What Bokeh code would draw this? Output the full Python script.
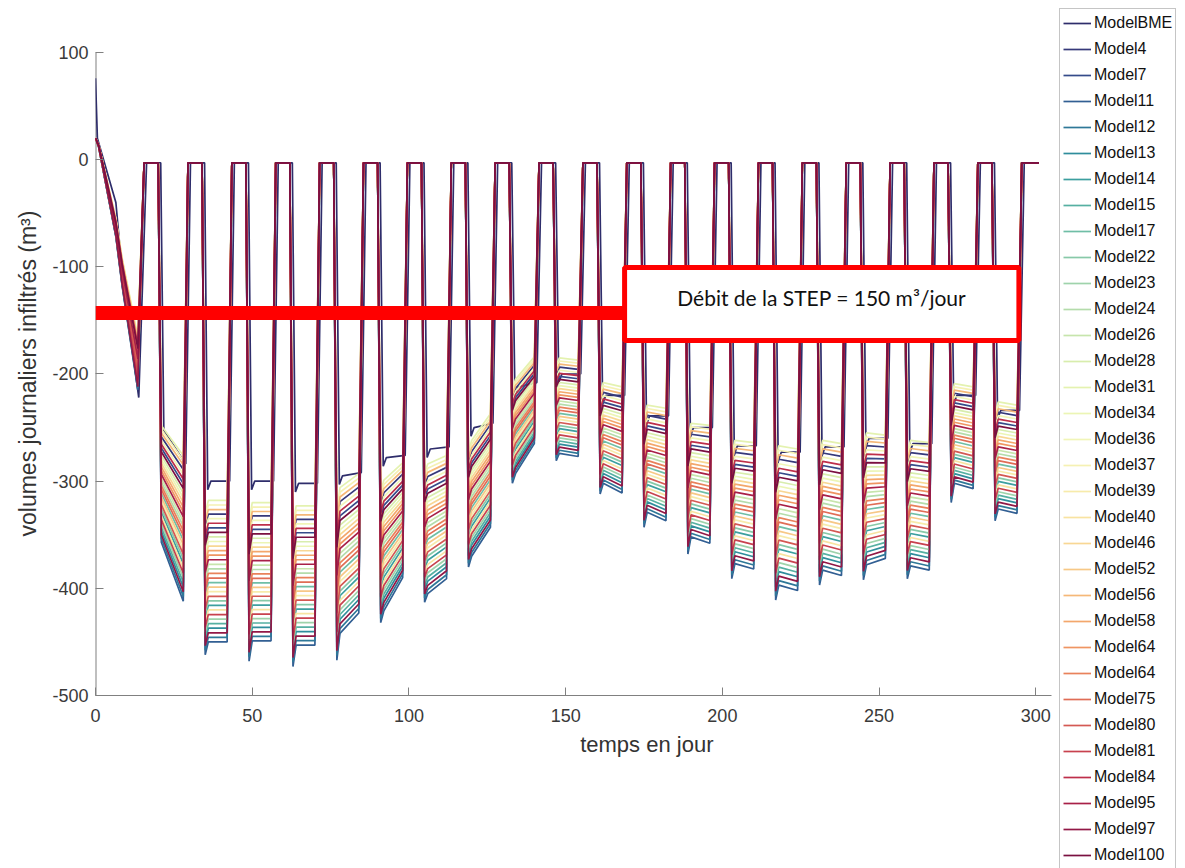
import numpy as np
from bokeh.plotting import figure
from bokeh.models import (Legend, LegendItem, BoxAnnotation, Label, FixedTicker, Range1d,
                          PrintfTickFormatter)
from bokeh.embed import file_html
from bokeh.resources import INLINE

# ---------------- data ----------------
models = ["ModelBME", "Model4", "Model7", "Model11", "Model12", "Model13", "Model14",
          "Model15", "Model17", "Model22", "Model23", "Model24", "Model26", "Model28",
          "Model31", "Model34", "Model36", "Model37", "Model39", "Model40", "Model46",
          "Model52", "Model56", "Model58", "Model64", "Model64", "Model75", "Model80",
          "Model81", "Model84", "Model95", "Model97", "Model100"]

colors = ["#2e2d6b", "#36397a", "#354b8a", "#325f93", "#2f7898", "#2f8d9c", "#3c9f9f",
          "#56b0a2", "#6fbea6", "#88c9a8", "#9fd3ab", "#b4dcab", "#c7e5ac", "#d8edad",
          "#e4f2b0", "#ecf5b5", "#f1f5b8", "#f5f1b3", "#f7ebab", "#f8e3a1", "#f8d794",
          "#f7c886", "#f5b878", "#f3a76c", "#ef9562", "#e9825b", "#e06d56", "#d45953",
          "#c8424e", "#be2f4a", "#a82048", "#921846", "#7a1040"]

# position of each model inside the bundle of low plateaus (1 = highest, 32 = lowest)
bundle_order = [None, 4, 7, 32, 31, 29, 24, 28, 19, 23, 27, 16, 15, 9, 1, 10, 5, 2, 21,
                25, 11, 20, 3, 12, 13, 17, 18, 22, 26, 6, 14, 30, 8]

# start of the run (days 0-14)
init_days = [0, 1, 6.5, 8.5, 13.5]
init_high = [20, 14, -55, -92, -165]
init_low = [20, 12, -72, -118, -215]
bme_init_days = [0, 0.6, 6.5, 8.5, 13.8]
bme_init = [76, 20, -40, -105, -222]

# near-zero plateaus (days)
top_on = [15.5, 29.5, 43.5, 57.5, 71.5, 85.5, 99.5, 113.5, 127.5, 141.5, 155.5,
          169.5, 183.5, 197.5, 211.5, 225.5, 239.5, 253.5, 267.5, 281.5, 295.5]
top_off = [20, 34, 48, 62, 76, 90, 104, 118, 132, 146, 160,
           174, 188, 202, 216, 230, 244, 258, 272, 286, 301]
top_level = -3

# low plateaus: first day of each, and envelope of the bundle
cycle_day = [21, 35, 49, 63, 77, 91, 105, 119, 133, 147,
             161, 175, 189, 203, 217, 231, 245, 259, 273, 287]
high_start = [-248, -318, -320, -323, -306, -299, -284, -262, -205, -185,
              -208, -229, -246, -262, -267, -262, -255, -262, -209, -226]
high_end = [-276, -318, -320, -323, -293, -283, -276, -237, -184, -187,
            -212, -232, -248, -264, -270, -265, -257, -264, -212, -229]
low_start = [-357, -450, -449, -453, -442, -421, -405, -370, -293, -274,
             -302, -329, -352, -377, -397, -383, -378, -379, -302, -326]
low_end = [-412, -450, -449, -453, -423, -390, -391, -343, -265, -277,
           -311, -337, -358, -382, -402, -388, -372, -383, -307, -330]
dip_min = [-357, -462, -468, -473, -467, -432, -413, -380, -302, -281,
           -312, -343, -368, -391, -411, -397, -392, -391, -320, -337]
bme_start = [-253, -300, -300, -302, -295, -278, -270, -250, -212, -200,
             -220, -239, -250, -267, -273, -268, -260, -265, -220, -234]
bme_end = [-284, -300, -300, -302, -292, -276, -268, -246, -208, -200,
           -220, -239, -250, -267, -273, -268, -260, -265, -220, -234]


def model_series(frac):
    xs, ys = [], []
    for d, hi, lo in zip(init_days, init_high, init_low):
        xs.append(d)
        ys.append(hi + frac * (lo - hi))
    for c, d in enumerate(cycle_day):
        xs += [top_on[c], top_off[c]]
        ys += [top_level, top_level]
        s = high_start[c] + frac * (low_start[c] - high_start[c])
        e = high_end[c] + frac * (low_end[c] - high_end[c])
        if c == 0:
            xs += [d, d + 7]
            ys += [s, e]
        else:
            xs += [d, d + 1, d + 7]
            ys += [s + (dip_min[c] - low_start[c]), s, e]
    xs += [top_on[-1], top_off[-1]]
    ys += [top_level, top_level]
    return xs, ys


def bme_series(shift=0.8):
    xs, ys = list(bme_init_days), list(bme_init)
    for c, d in enumerate(cycle_day):
        xs += [top_on[c] + shift, top_off[c] + shift]
        ys += [top_level, top_level]
        if c == 0:
            xs += [d + shift, d + 7 + shift]
            ys += [bme_start[c], bme_end[c]]
        else:
            xs += [d + shift, d + 1 + shift, d + 7 + shift]
            ys += [bme_start[c] - 8, bme_start[c], bme_end[c]]
    xs += [top_on[-1] + shift, top_off[-1]]
    ys += [top_level, top_level]
    return xs, ys


# ---------------- figure ----------------
# the frame reaches the top of the canvas so that the legend (aligned on the
# frame top) starts at the top like in the reference; the y axis line is
# drawn from -500 to 100 only
y_axis_top = 100
p = figure(frame_width=956, frame_height=695, output_backend="svg", toolbar_location=None,
           title=None, x_range=Range1d(0, 305), y_range=Range1d(-500, 148.5),
           min_border_left=95, min_border_top=0, min_border_bottom=171, min_border_right=0)
p.outline_line_color = None
p.xgrid.grid_line_color = None
p.ygrid.grid_line_color = None
p.background_fill_color = "white"
p.border_fill_color = "white"

p.xaxis.ticker = FixedTicker(ticks=[0, 50, 100, 150, 200, 250, 300])
p.yaxis.ticker = FixedTicker(ticks=[-500, -400, -300, -200, -100, 0, 100])
for ax in (p.xaxis[0], p.yaxis[0]):
    ax.formatter = PrintfTickFormatter(format="%d")
    ax.axis_line_color = "#808080"
    ax.major_tick_line_color = "#808080"
    ax.major_tick_in = 8
    ax.major_tick_out = 0
    ax.minor_tick_line_color = None
    ax.major_label_text_font = "Liberation Sans"
    ax.major_label_text_font_size = "18px"
    ax.major_label_text_color = "#3a3a3a"
    ax.axis_label_text_font = "Liberation Sans"
    ax.axis_label_text_font_style = "normal"
    ax.axis_label_text_color = "#333333"
p.yaxis.axis_line_color = None
p.line([0, 0], [-500, y_axis_top], line_color="#808080", line_width=2)

# the reference centres its axis titles on axes that run on behind the legend,
# so they are moved with non-breaking spaces
p.xaxis.axis_label = "\u00a0" * 24 + "temps en jour"
p.yaxis.axis_label = "volumes journaliers infiltrés (m³)" + "\u00a0" * 8
p.xaxis.axis_label_text_font_size = "22px"
p.yaxis.axis_label_text_font_size = "23px"
p.xaxis.major_label_standoff = 13
p.xaxis.axis_label_standoff = 7
p.yaxis.major_label_standoff = 7
p.yaxis.axis_label_standoff = 8

items = []
for i, (name, col) in enumerate(zip(models, colors)):
    if bundle_order[i] is None:
        xs, ys = bme_series()
    else:
        xs, ys = model_series((bundle_order[i] - 1) / 31)
    r = p.line(xs, ys, line_color=col, line_width=1.7)
    items.append(LegendItem(label=name, renderers=[r]))

# annotation: STEP flow
step_level = -143
p.line([0, 168.8], [step_level, step_level], line_color="#ff0000", line_width=14)
p.add_layout(BoxAnnotation(left=168.8, right=294.6, top=-100.6, bottom=-168.7,
                           fill_color="white", fill_alpha=1.0,
                           line_color="#ff0000", line_width=5, line_alpha=1.0))
p.add_layout(Label(x=231.7, y=-129, text="Débit de la STEP = 150 m³/jour",
                   text_align="center", text_baseline="middle",
                   text_font="Lato", text_font_size="21px", text_color="#111111"))

legend = Legend(items=items, location="top_left", orientation="vertical")
legend.label_text_font = "Liberation Sans"
legend.label_text_font_size = "16px"
legend.label_text_color = "#111111"
legend.label_height = 22
legend.glyph_height = 22
legend.glyph_width = 28
legend.label_standoff = 3
legend.spacing = 4
legend.padding = 3
legend.margin = 8
legend.border_line_color = "#8c8c8c"
legend.border_line_width = 1
legend.background_fill_color = "white"
legend.background_fill_alpha = 1.0
p.add_layout(legend, "right")

open("out.html", "w").write(file_html(p, INLINE))
